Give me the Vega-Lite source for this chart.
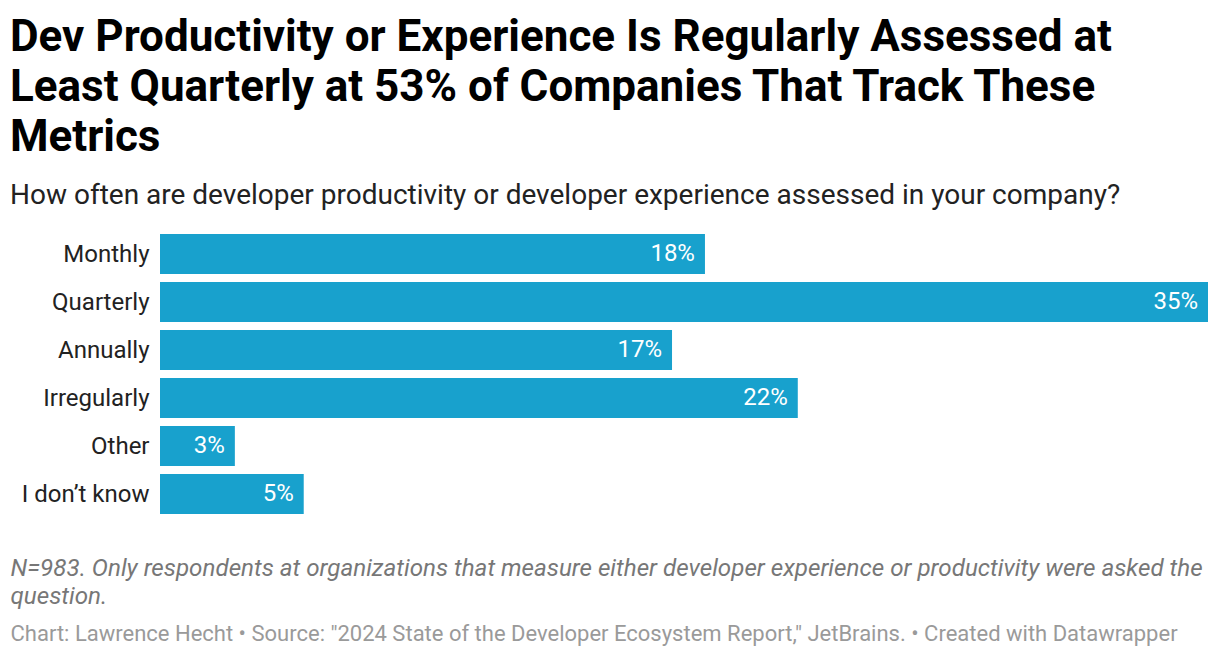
{
  "$schema": "https://vega.github.io/schema/vega-lite/v6.json",
  "autosize": "none",
  "width": 1048,
  "height": 288,
  "padding": {"left": 160, "top": 230, "right": 12, "bottom": 138},
  "background": "white",
  "config": {"view": {"stroke": null}, "font": "Roboto"},
  "title": {
    "text": ["Dev Productivity or Experience Is Regularly Assessed at", "Least Quarterly at 53% of Companies That Track These", "Metrics"],
    "subtitle": "How often are developer productivity or developer experience assessed in your company?",
    "anchor": "start",
    "frame": "group",
    "dx": -150,
    "offset": 20,
    "font": "Roboto",
    "fontSize": 44,
    "fontWeight": "bold",
    "color": "#000000",
    "lineHeight": 50,
    "subtitleFont": "Roboto",
    "subtitleFontSize": 28,
    "subtitleColor": "#222222",
    "subtitlePadding": 22
  },
  "data": {
    "values": [
      {"answer": "Monthly", "value": 18.2, "label": "18%"},
      {"answer": "Quarterly", "value": 35.0, "label": "35%"},
      {"answer": "Annually", "value": 17.1, "label": "17%"},
      {"answer": "Irregularly", "value": 21.3, "label": "22%"},
      {"answer": "Other", "value": 2.5, "label": "3%"},
      {"answer": "I don’t know", "value": 4.8, "label": "5%"}
    ]
  },
  "encoding": {
    "y": {
      "field": "answer",
      "type": "nominal",
      "sort": null,
      "scale": {"paddingInner": 0.1667, "paddingOuter": 0.0833},
      "axis": {
        "domain": false,
        "ticks": false,
        "labelPadding": 11,
        "labelOffset": 1,
        "labelFont": "Roboto",
        "labelFontSize": 24,
        "labelColor": "#222222",
        "title": "Chart: Lawrence Hecht • Source: \"2024 State of the Developer Ecosystem Report,\" JetBrains. • Created with Datawrapper",
        "titleAngle": 0,
        "titleAlign": "left",
        "titleBaseline": "alphabetic",
        "titleX": -150,
        "titleY": 410,
        "titleFont": "Roboto",
        "titleFontSize": 22,
        "titleFontWeight": "normal",
        "titleColor": "#9a9a9a"
      }
    },
    "x": {
      "field": "value",
      "type": "quantitative",
      "scale": {"domain": [0, 35], "nice": false},
      "axis": {
        "domain": false,
        "ticks": false,
        "labels": false,
        "grid": false,
        "title": ["N=983. Only respondents at organizations that measure either developer experience or productivity were asked the", "question."],
        "titleAnchor": "start",
        "titleAlign": "left",
        "titleBaseline": "alphabetic",
        "titleX": -150,
        "titleY": 57,
        "titleLineHeight": 28,
        "titleFont": "Roboto",
        "titleFontSize": 24.2,
        "titleFontStyle": "italic",
        "titleFontWeight": "normal",
        "titleColor": "#777777"
      }
    }
  },
  "layer": [
    {"mark": {"type": "bar", "color": "#18a1cd"}},
    {
      "mark": {"type": "text", "align": "right", "baseline": "middle", "dx": -10, "color": "white", "font": "Roboto", "fontSize": 24},
      "encoding": {"text": {"field": "label"}}
    }
  ]
}
